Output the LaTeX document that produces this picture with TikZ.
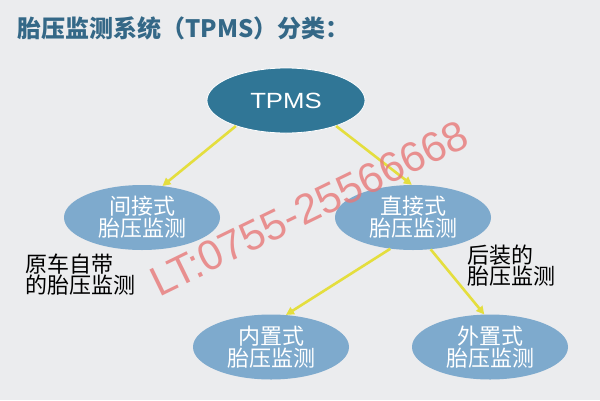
\documentclass[tikz,border=0pt]{standalone}
\usepackage{fontspec}
\setmainfont{Liberation Sans}
\newfontfamily\cjk{Noto Sans CJK SC}
\usetikzlibrary{shapes.geometric,arrows.meta}
\definecolor{bg}{RGB}{235,236,238}
\definecolor{titlec}{RGB}{52,104,135}
\definecolor{darkb}{RGB}{48,118,150}
\definecolor{lightb}{RGB}{126,170,205}
\definecolor{arrowc}{RGB}{228,222,62}
\definecolor{wmark}{RGB}{232,120,120}
\tikzset{
  darknode/.style={ellipse, fill=darkb, draw=white, line width=0.8pt, minimum width=158pt, minimum height=65pt, inner sep=0pt, text=white},
  lightnode/.style={ellipse, fill=lightb, draw=none, minimum width=156pt, minimum height=65pt, inner sep=0pt, text=white, align=center, font=\cjk\fontsize{22}{22}\selectfont},
  lab/.style={anchor=west, align=left, text=black, font=\cjk\fontsize{22}{21}\selectfont, inner sep=0pt},
  arr/.style={draw=arrowc, line width=2.6pt, -{Triangle[length=8pt,width=8pt]}},
}
\begin{document}
\begin{tikzpicture}[x=1pt,y=-1pt]
\path[fill=bg] (0,0) rectangle (600,400);
\node[anchor=west, inner sep=0pt, text=titlec, font=\cjk\bfseries\fontsize{24}{24}\selectfont] (title) at (17,28) {胎压监测系统（TPMS）分类：};
\node[darknode] (tpms) at (286,100.5) {\fontsize{22}{22}\selectfont\scalebox{1.17}[1]{TPMS}};
\node[lightnode] (ind) at (142,217.5) {间接式\\胎压监测};
\node[lightnode] (dir) at (413,217.5) {直接式\\胎压监测};
\node[lightnode] (inn) at (271,347) {内置式\\胎压监测};
\node[lightnode] (out) at (490,347) {外置式\\胎压监测};
\node[lab] (l1) at (25,275) {原车自带\\的胎压监测};
\node[lab] (l2) at (467,266) {后装的\\胎压监测};
\draw[arr] (tpms.207) -- (ind.57);
\draw[arr] (tpms.333) -- (dir.92);
\draw[arr] (dir.234) -- (inn.65);
\draw[arr] (dir.299) -- (out.100);
\node[rotate=26, text=wmark, opacity=0.8, font=\fontsize{42}{42}\selectfont, inner sep=0pt] (wm) at (309,208) {LT:0755-25566668};
\end{tikzpicture}
\end{document}
